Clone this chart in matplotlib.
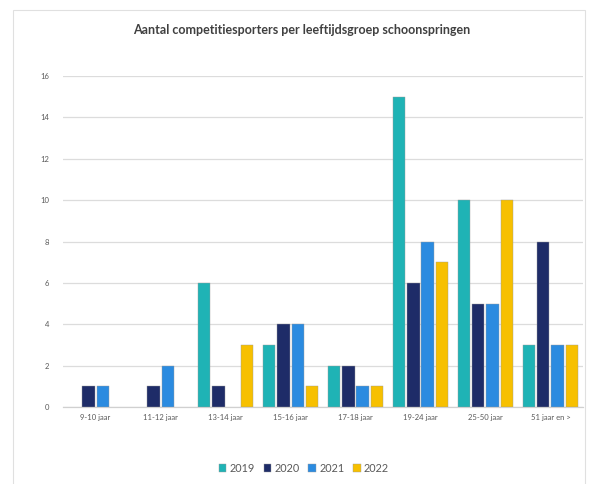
import matplotlib
matplotlib.use('Agg')
import matplotlib.pyplot as plt
import numpy as np
from matplotlib.patches import Rectangle

plt.rcParams['font.family'] = ['Lato', 'DejaVu Sans']

# Data
categories = ['9-10 jaar', '11-12 jaar', '13-14 jaar', '15-16 jaar',
              '17-18 jaar', '19-24 jaar', '25-50 jaar', '51 jaar en >']
years = ['2019', '2020', '2021', '2022']
v2019 = [0, 0, 6, 3, 2, 15, 10, 3]
v2020 = [1, 1, 1, 4, 2, 6, 5, 8]
v2021 = [1, 2, 0, 4, 1, 8, 5, 3]
v2022 = [0, 0, 3, 1, 1, 7, 10, 3]
colors = ['#1fb3b5', '#1e2c68', '#2b8be0', '#f7c000']

fig = plt.figure(figsize=(5.9, 4.84), dpi=100)
ax = fig.add_axes([0.107, 0.159, 0.881, 0.684])

# outer chart border
fig.patches.append(Rectangle((0.022, -0.01), 0.970, 0.99, transform=fig.transFigure,
                             fill=False, edgecolor='#e0e0e0', linewidth=0.8))

x = np.arange(len(categories))
step = 0.22
width = 0.19
series = [v2019, v2020, v2021, v2022]
for i, (vals, yr, c) in enumerate(zip(series, years, colors)):
    h = np.array(vals, dtype=float)
    h[h == 0] = np.nan  # no sliver for empty bars
    ax.bar(x + (i - 1.5) * step, h, width, color=c, label=yr,
           edgecolor='#9a9a9a', linewidth=0.3, zorder=3)

ax.set_xlim(-0.5, len(categories) - 0.5)
ax.set_ylim(0, 16)
ax.set_yticks(range(0, 17, 2))
ax.set_xticks(x)
ax.set_xticklabels(categories)
ax.tick_params(axis='both', length=0, labelsize=5.5, colors='#595959')
ax.tick_params(axis='y', pad=10)
ax.tick_params(axis='x', pad=5)
ax.grid(axis='y', color='#dcdcdc', linewidth=0.9, zorder=0)
for s in ['top', 'right', 'left']:
    ax.spines[s].set_visible(False)
ax.spines['bottom'].set_color('#d0d0d0')
ax.spines['bottom'].set_linewidth(0.9)

fig.text(0.512, 0.938, 'Aantal competitiesporters per leeftijdsgroep schoonspringen',
         ha='center', va='center', fontsize=9, fontweight='bold', color='#404040')

fig.legend(loc='center', bbox_to_anchor=(0.515, 0.033), ncol=4, frameon=False,
           fontsize=7.8, handlelength=0.7, handleheight=0.7, handletextpad=0.3,
           columnspacing=0.8, labelcolor='#595959')

fig.savefig('out.png', dpi=100)
